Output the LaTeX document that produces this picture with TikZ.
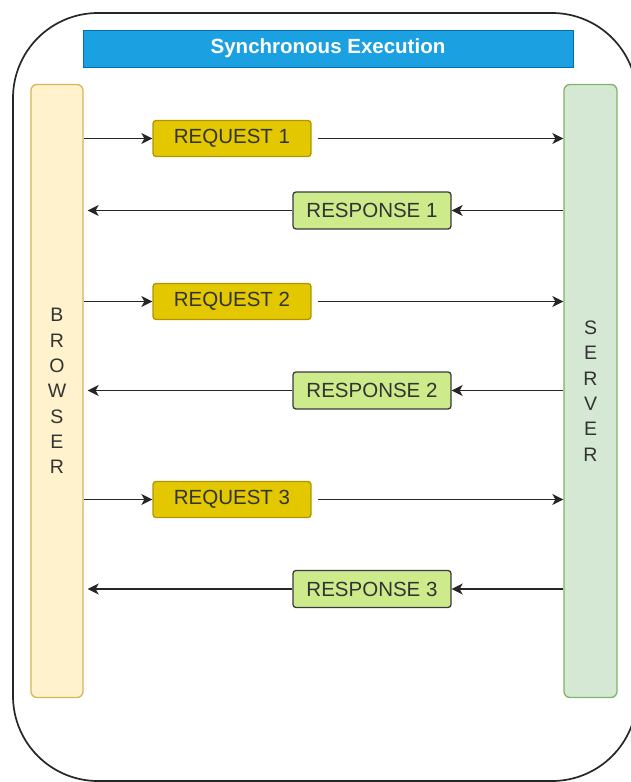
\documentclass[tikz,border=0pt]{standalone}
\usepackage{fontspec}
\setmainfont{Liberation Sans}
\usetikzlibrary{arrows.meta}
\definecolor{hdrfill}{HTML}{1BA1E2}
\definecolor{hdrline}{HTML}{006EAF}
\definecolor{brfill}{HTML}{FFF2CC}
\definecolor{brline}{HTML}{D6B656}
\definecolor{svfill}{HTML}{D5E8D4}
\definecolor{svline}{HTML}{82B366}
\definecolor{rqfill}{HTML}{E3C800}
\definecolor{rqline}{HTML}{B09500}
\definecolor{rsfill}{HTML}{CDEB8B}
\definecolor{rsline}{HTML}{36393D}
\definecolor{txt}{HTML}{333333}
\tikzset{
  lane/.style={draw, line width=1.3pt, rounded corners=6pt, minimum width=52pt,
    minimum height=613pt, inner sep=0pt, align=center, text=txt,
    font=\fontsize{19.5}{25.3}\selectfont},
  reqbox/.style={draw=rqline, fill=rqfill, line width=1.3pt, rounded corners=3pt,
    minimum width=158pt, minimum height=36pt, inner sep=0pt, text=txt,
    font=\fontsize{20.5}{24}\selectfont},
  resbox/.style={draw=rsline, fill=rsfill, line width=1.3pt, rounded corners=3pt,
    minimum width=158pt, minimum height=37pt, inner sep=0pt, text=txt,
    font=\fontsize{20.5}{24}\selectfont},
  flow/.style={draw=black!85, line width=1.7pt, -{Stealth[length=11pt,width=11pt,inset=3pt]}}
}
\begin{document}
\begin{tikzpicture}[x=1pt, y=-1pt]
\useasboundingbox (0,0) rectangle (631,782);
% outer frame, partly running past the page edge
\begin{scope}
  \clip (0,0) rectangle (631,782);
  \draw[line width=1.7pt, black!85, rounded corners=85pt] (13,13) rectangle (637,781);
\end{scope}
% title bar
\node[draw=hdrline, fill=hdrfill, line width=1pt, minimum width=490pt, minimum height=37pt,
  inner sep=0pt, text=white, font=\fontsize{20.5}{24}\selectfont\bfseries]
  (title) at (328,48.5) {Synchronous Execution};
% the two lifelines
\node[lane, draw=brline, fill=brfill] (browser) at (57,391) {B\\R\\O\\W\\S\\E\\R};
\node[lane, draw=svline, fill=svfill, minimum width=53pt] (server) at (590.5,391) {S\\E\\R\\V\\E\\R};
% messages
\node[reqbox] (req1) at (232,138.5) {REQUEST 1};
\node[resbox] (res1) at (372,210.5) {RESPONSE 1};
\node[reqbox] (req2) at (232,301.5) {REQUEST 2};
\node[resbox] (res2) at (372,390.5) {RESPONSE 2};
\node[reqbox] (req3) at (232,499.5) {REQUEST 3};
\node[resbox] (res3) at (372,589) {RESPONSE 3};
% browser -> request -> server
\foreach \r in {req1,req2,req3}{
  \draw[flow] (browser.east |- \r.west) -- (\r.west);
  \draw[flow] ([xshift=6pt]\r.east) -- (server.west |- \r.east);
}
% server -> response -> browser
\foreach \r in {res1,res2,res3}{
  \draw[flow] (server.west |- \r.east) -- (\r.east);
  \draw[flow] (\r.west) -- ([xshift=4pt]browser.east |- \r.west);
}
\end{tikzpicture}
\end{document}
